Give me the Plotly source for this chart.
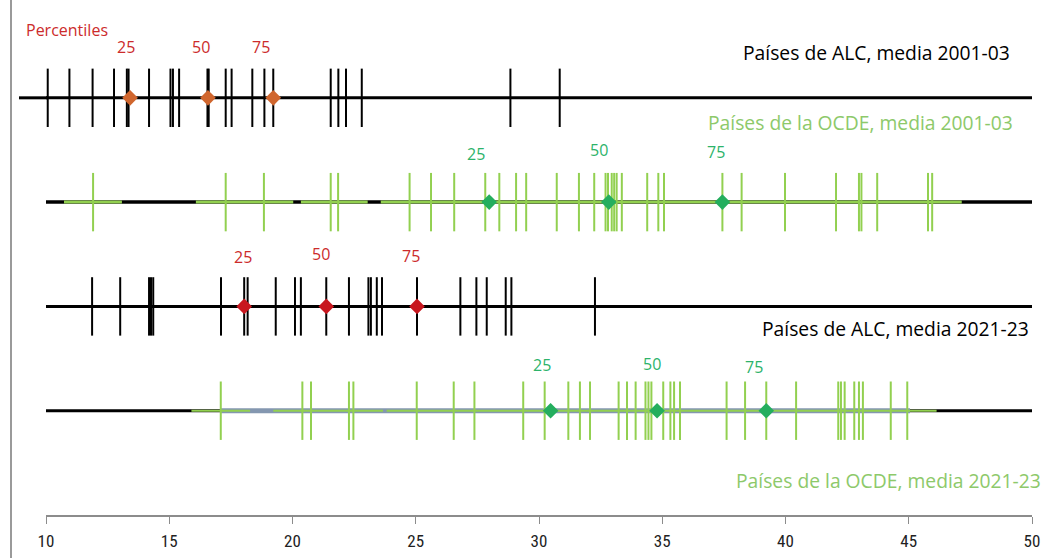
import plotly.graph_objects as go

# ---------------- data ----------------
lac_2001 = [10.07, 10.95, 11.89, 12.76, 13.28, 13.35, 14.18, 15.05, 15.15, 15.40,
            16.55, 16.60, 17.29, 17.53, 18.37, 18.86, 19.22, 21.55, 21.86, 22.17,
            22.81, 28.84, 30.84]
ocde_2001 = [11.91, 17.29, 18.84, 21.55, 21.85, 24.75, 25.62, 26.56, 27.82, 28.39,
             29.07, 29.48, 30.72, 31.62, 32.24, 32.70, 32.80, 32.95, 33.05, 33.15,
             33.36, 34.39, 34.84, 35.07, 37.44, 38.22, 39.98, 42.05, 42.98, 43.08,
             43.72, 45.78, 45.95]
lac_2021 = [11.87, 13.01, 14.18, 14.26, 14.35, 17.10, 18.04, 18.18, 19.32, 20.10,
            20.34, 21.37, 22.29, 23.08, 23.18, 23.42, 23.63, 25.05, 26.81, 27.46,
            27.88, 28.65, 28.88, 32.27]
ocde_2021 = [17.09, 20.40, 20.75, 22.29, 22.47, 25.04, 26.54, 27.38, 29.36, 30.23,
             31.19, 31.66, 32.07, 33.23, 33.57, 33.92, 34.32, 34.44, 34.56, 35.04,
             35.33, 35.48, 35.72, 37.61, 38.36, 39.22, 40.43, 42.14, 42.25, 42.40,
             42.79, 42.98, 43.14, 44.27, 44.94]

pct_lac_2001 = [13.41, 16.57, 19.22]
pct_ocde_2001 = [27.98, 32.83, 37.44]
pct_lac_2021 = [18.04, 21.37, 25.05]
pct_ocde_2021 = [30.47, 34.79, 39.22]
pct_labels = ["25", "50", "75"]

# label positions (x in data units)
lbl_x_lac_2001 = [13.25, 16.29, 18.72]
lbl_x_ocde_2001 = [27.44, 32.45, 37.18]
lbl_x_lac_2021 = [17.98, 21.14, 24.80]
lbl_x_ocde_2021 = [30.11, 34.57, 38.72]

x_ticks = [10, 15, 20, 25, 30, 35, 40, 45, 50]

# ---------------- style ----------------
BLACK = "#000000"
GREEN_TICK = "#92D050"
GREEN_TITLE = "#8DC96A"
GREEN_PCT = "#24AE5E"
GREEN_LBL = "#2DB36A"
SLATE = "#8497B0"
ORANGE = "#D0662E"
RED = "#C8171F"
RED_TXT = "#CC2B2B"

YMAX = 4.938
HALF = 0.28
rows = {"lac01": 4, "oc01": 3, "lac21": 2, "oc21": 1}
TFONT = "'Open Sans', 'Noto Sans', sans-serif"

fig = go.Figure()


def add_line(x0, x1, y, color, width):
    fig.add_trace(go.Scatter(x=[x0, x1], y=[y, y], mode="lines",
                             line=dict(color=color, width=width),
                             hoverinfo="skip", showlegend=False))


def add_ticks(vals, y, color, width=2):
    xs, ys = [], []
    for v in vals:
        xs += [v, v, None]
        ys += [y - HALF, y + HALF, None]
    fig.add_trace(go.Scatter(x=xs, y=ys, mode="lines",
                             line=dict(color=color, width=width),
                             hoverinfo="skip", showlegend=False))


def add_pct(vals, y, color, lbl_x, lbl_dy, txt_color):
    fig.add_trace(go.Scatter(x=vals, y=[y] * len(vals), mode="markers",
                             marker=dict(symbol="diamond", size=12, color=color),
                             cliponaxis=False, hoverinfo="skip", showlegend=False))
    for lx, t, dy in zip(lbl_x, pct_labels, lbl_dy):
        fig.add_annotation(x=lx, y=y + dy, xref="x", yref="y", text=t,
                           showarrow=False, font=dict(size=16, color=txt_color, family=TFONT))


# Row 1: LAC 2001-03
y1 = rows["lac01"]
add_line(10, 50, y1, BLACK, 3)
add_ticks(lac_2001, y1, BLACK)
add_pct(pct_lac_2001, y1, ORANGE, lbl_x_lac_2001, [0.486, 0.486, 0.486], RED_TXT)

# Row 2: OECD 2001-03
y2 = rows["oc01"]
add_line(10, 50, y2, BLACK, 3.5)
for a, b in [(10.73, 13.08), (16.08, 20.03), (20.34, 23.05), (23.58, 47.15)]:
    add_line(a, b, y2, GREEN_TICK, 3)
add_ticks(ocde_2001, y2, GREEN_TICK)
add_pct(pct_ocde_2001, y2, GREEN_PCT, lbl_x_ocde_2001, [0.461, 0.50, 0.483], GREEN_LBL)

# Row 3: LAC 2021-23
y3 = rows["lac21"]
add_line(10, 50, y3, BLACK, 3)
add_ticks(lac_2021, y3, BLACK)
add_pct(pct_lac_2021, y3, RED, lbl_x_lac_2021, [0.471, 0.502, 0.486], RED_TXT)

# Row 4: OECD 2021-23
y4 = rows["oc21"]
add_line(10, 50, y4, BLACK, 3)
add_line(17.09, 45.05, y4, SLATE, 5)
for a, b in [(15.9, 18.28), (19.22, 23.67), (23.82, 46.13)]:
    add_line(a, b, y4, GREEN_TICK, 2)
add_ticks(ocde_2021, y4, GREEN_TICK)
add_pct(pct_ocde_2021, y4, GREEN_PCT, lbl_x_ocde_2021, [0.438, 0.448, 0.422], GREEN_LBL)

# row-1 line extension to the left of 10
fig.add_shape(type="line", xref="paper", yref="paper",
              x0=(19 - 46) / 986, x1=0.002, y0=y1 / YMAX, y1=y1 / YMAX,
              line=dict(color=BLACK, width=3))

# left frame line
fig.add_shape(type="line", xref="paper", yref="paper",
              x0=-35 / 986, x1=-35 / 986, y0=-43 / 515, y1=1.0,
              line=dict(color="#9A9A9A", width=2))

# titles
titles = [
    ("Países de ALC, media 2001-03", 1012, 52.7, BLACK),
    ("Países de la OCDE, media 2001-03", 1015, 122.7, GREEN_TITLE),
    ("Países de ALC, media 2021-23", 1031, 328, BLACK),
    ("Países de la OCDE, media 2021-23", 1043, 480, GREEN_TITLE),
]
for txt, xr, yc, col in titles:
    fig.add_annotation(x=(xr - 46) / 986, y=(515 - yc) / 515, xref="paper", yref="paper",
                       text=txt, showarrow=False, xanchor="right", yanchor="middle",
                       font=dict(size=19.3, color=col, family=TFONT))

fig.add_annotation(x=(24 - 46) / 986, y=(515 - 30) / 515, xref="paper", yref="paper",
                   text="Percentiles", showarrow=False, xanchor="left", yanchor="middle",
                   font=dict(size=16, color=RED_TXT, family=TFONT))

fig.update_layout(
    width=1048, height=558,
    margin=dict(l=46, r=16, t=0, b=43),
    paper_bgcolor="white", plot_bgcolor="white",
    font=dict(family=TFONT, color="#222222"),
    xaxis=dict(range=[10, 50], tickvals=x_ticks, ticktext=[str(v) for v in x_ticks],
               showgrid=False, zeroline=False, showline=True, linecolor="#8C8C8C",
               linewidth=1.5, ticks="outside", ticklen=7, tickcolor="#8C8C8C",
               tickwidth=1, ticklabelstandoff=3,
               tickfont=dict(size=17, color="#222222",
                             family="'Liberation Sans Narrow', 'Roboto Condensed', Roboto")),
    yaxis=dict(range=[0, YMAX], visible=False, showgrid=False, zeroline=False),
)

fig.write_html("out.html", config={"displayModeBar": False},
               post_script="document.body.style.margin='0';document.body.style.padding='0';")
